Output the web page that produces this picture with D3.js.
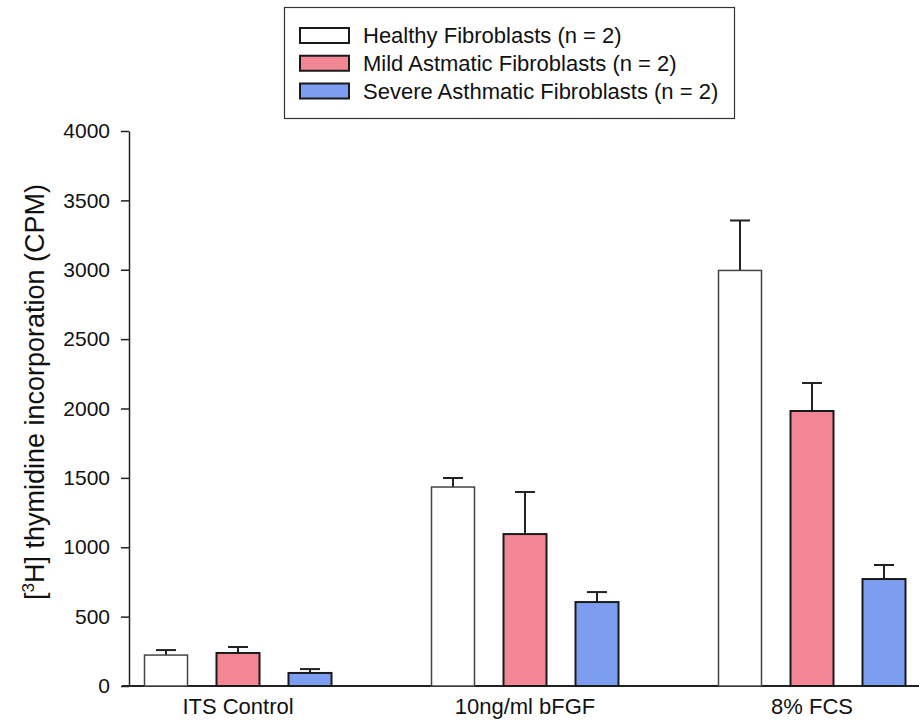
<!DOCTYPE html>
<html>
<head>
<meta charset="utf-8">
<script src="https://cdn.jsdelivr.net/npm/d3@7"></script>
<style>
  body { margin: 0; background: #fff; }
  svg { font-family: Arial, "Liberation Sans", sans-serif; }
  .tick line { stroke: #222; stroke-width: 1.5; }
</style>
</head>
<body>
<div id="chart"></div>
<script>
const width = 919;
const height = 723;

// values
const categories = ["ITS Control", "10ng/ml bFGF", "8% FCS"];
const series = ["Healthy Fibroblasts (n = 2)", "Mild Astmatic Fibroblasts (n = 2)", "Severe Asthmatic Fibroblasts (n = 2)"];
const healthy = [223, 1434, 2995];
const mild = [238, 1095, 1982];
const severe = [94, 605, 771];
const healthy_err = [36, 65, 360];
const mild_err = [43, 303, 202];
const severe_err = [28, 72, 101];
const y_ticks = [0, 500, 1000, 1500, 2000, 2500, 3000, 3500, 4000];
const fills = ["#ffffff", "#f38694", "#7d9ef0"];
const strokes = ["#444", "#1a1a1a", "#1a1a1a"];

const values = [healthy, mild, severe];
const errors = [healthy_err, mild_err, severe_err];

const bars = [];
series.forEach((s, si) => {
  categories.forEach((c, ci) => {
    bars.push({ series: s, si: si, cat: c, value: values[si][ci], err: errors[si][ci] });
  });
});

const y_scale = d3.scaleLinear().domain([0, 4000]).range([686, 131]);
const x_scale = d3.scaleBand().domain(categories).range([94.5, 955.5]).padding(0);
const sub_scale = d3.scalePoint().domain(series).range([-72, 72]);
const bar_w = 43;
const cap_w = 20;
const cx = d => x_scale(d.cat) + x_scale.bandwidth() / 2 + sub_scale(d.series);

const svg = d3.select('#chart')
  .append('svg')
    .attr('width', width)
    .attr('height', height);

// y axis
svg.append('g')
    .attr('class', 'y-axis')
    .attr('transform', 'translate(129,0)')
    .call(d3.axisLeft(y_scale).tickValues(y_ticks).tickFormat(d3.format('d')).tickSize(8).tickPadding(11).tickSizeOuter(0))
    .call(g => g.select('.domain').attr('stroke', '#222').attr('stroke-width', 1.5))
    .call(g => g.selectAll('text').attr('font-size', 21).attr('fill', '#111').attr('font-family', 'Arial, "Liberation Sans", sans-serif'));

// x axis: long baseline, labels only
svg.append('line')
    .attr('x1', 122).attr('x2', 919)
    .attr('y1', y_scale(0)).attr('y2', y_scale(0))
    .attr('stroke', '#222').attr('stroke-width', 2);

svg.append('g')
    .attr('class', 'x-axis')
    .attr('transform', `translate(0,${y_scale(0)})`)
    .call(d3.axisBottom(x_scale).tickSize(0).tickPadding(12))
    .call(g => g.select('.domain').remove())
    .call(g => g.selectAll('text').attr('font-size', 22).attr('fill', '#111').attr('font-family', 'Arial, "Liberation Sans", sans-serif'));

// axis title
const title = svg.append('text')
    .attr('transform', 'translate(44,392) rotate(-90)')
    .attr('text-anchor', 'middle')
    .attr('font-size', 27)
    .attr('fill', '#111');
title.append('tspan').text('[');
title.append('tspan').attr('font-size', 17).attr('dy', -10).text('3');
title.append('tspan').attr('dy', 10).text('H] thymidine incorporation (CPM)');

// error bars (upper only)
svg.selectAll('.err')
    .data(bars)
  .join('g')
    .attr('class', 'err')
    .attr('stroke', '#222')
    .attr('stroke-width', 2)
    .each(function(d) {
      const g = d3.select(this);
      g.append('line')
        .attr('x1', cx(d)).attr('x2', cx(d))
        .attr('y1', y_scale(d.value)).attr('y2', y_scale(d.value + d.err));
      g.append('line')
        .attr('x1', cx(d) - cap_w / 2).attr('x2', cx(d) + cap_w / 2)
        .attr('y1', y_scale(d.value + d.err)).attr('y2', y_scale(d.value + d.err));
    });

// bars
svg.selectAll('.bar')
    .data(bars)
  .join('rect')
    .attr('class', 'bar')
    .attr('x', d => cx(d) - bar_w / 2)
    .attr('y', d => y_scale(d.value))
    .attr('width', bar_w)
    .attr('height', d => y_scale(0) - y_scale(d.value))
    .attr('fill', d => fills[d.si])
    .attr('stroke', d => strokes[d.si])
    .attr('stroke-width', d => d.si === 0 ? 1.5 : 2);

// legend
const legend = svg.append('g').attr('class', 'legend');
legend.append('rect')
    .attr('x', 284.5).attr('y', 7.5)
    .attr('width', 450).attr('height', 111)
    .attr('fill', '#fff').attr('stroke', '#333').attr('stroke-width', 1.2);

const leg_y = d3.scalePoint().domain(series).range([35.5, 91]);
const rows = legend.selectAll('.row')
    .data(series)
  .join('g')
    .attr('class', 'row')
    .attr('transform', d => `translate(0,${leg_y(d)})`);
rows.append('rect')
    .attr('x', 300).attr('y', -7.5)
    .attr('width', 49).attr('height', 15)
    .attr('fill', (d, i) => fills[i])
    .attr('stroke', '#1a1a1a').attr('stroke-width', 2);
rows.append('text')
    .attr('x', 363).attr('y', 7.5)
    .attr('font-size', 22)
    .attr('fill', '#111')
    .text(d => d);
</script>
</body>
</html>
